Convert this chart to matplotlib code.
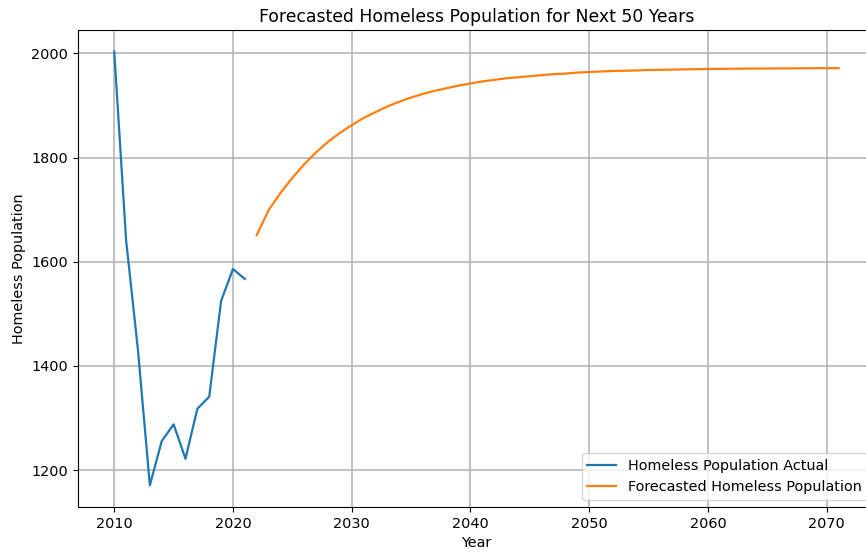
import numpy as np
import matplotlib
matplotlib.use('Agg')
import matplotlib.pyplot as plt

# dados observados
anos_reais = list(range(2010, 2022))
pop_real = [2003, 1641, 1430, 1171, 1256, 1288, 1222, 1318, 1341, 1525, 1586, 1567]

# previsao para os proximos 50 anos
anos_previsao = list(range(2022, 2072))
pop_previsao = [1651, 1699, 1732, 1761, 1787, 1810, 1830, 1847, 1862, 1876,
                1887, 1898, 1907, 1915, 1922, 1928, 1933, 1938, 1942, 1946,
                1949, 1952, 1954, 1956, 1958, 1960, 1961, 1963, 1964, 1965,
                1966, 1966.5, 1967, 1968, 1968.3, 1968.7, 1969.1, 1969.5, 1969.8, 1970.1,
                1970.3, 1970.5, 1970.7, 1970.8, 1971.0, 1971.1, 1971.2, 1971.3, 1971.4, 1971.5]

plt.rcParams['font.size'] = 10.4

fig = plt.figure(figsize=(8.66, 5.54), dpi=100)
ax = fig.add_axes([0.0901, 0.0848, 0.920, 0.861])

ax.plot(anos_reais, pop_real, label='Homeless Population Actual', linewidth=1.6)
ax.plot(anos_previsao, pop_previsao, label='Forecasted Homeless Population', linewidth=1.6)

ax.set_title('Forecasted Homeless Population for Next 50 Years', fontsize=12.4)
ax.set_xlabel('Year')
ax.set_ylabel('Homeless Population')
ax.grid(True, linewidth=1.1)
ax.legend(loc='lower right')

fig.savefig('out.png', dpi=100)
